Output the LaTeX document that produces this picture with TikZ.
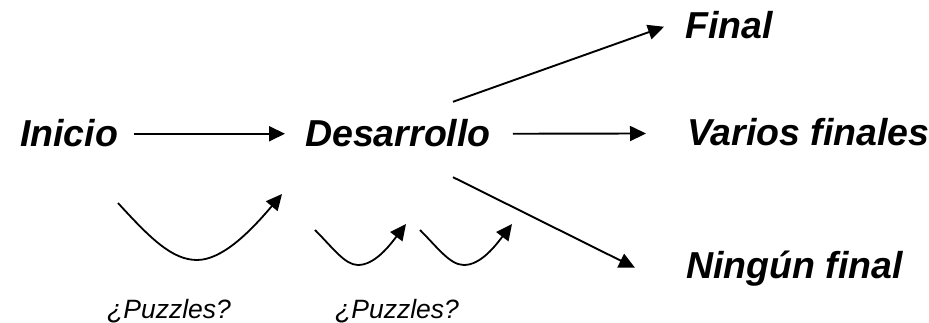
\documentclass[tikz,border=0pt]{standalone}
\usepackage{fontspec}
\setmainfont{Liberation Sans}
\usetikzlibrary{arrows.meta}
\tikzset{
  big/.style={inner sep=0pt, anchor=base west, text height=26.5pt, text depth=0pt,
    font=\fontsize{37.5}{40}\selectfont\bfseries\itshape},
  small/.style={inner sep=0pt, anchor=base west, font=\fontsize{26.5}{28}\selectfont\itshape},
  arr/.style={line width=1.9pt, -{Triangle[length=16pt,width=15pt]}},
  curvearr/.style={line width=1.8pt, -{Triangle[length=16pt,width=15pt]}}
}
\begin{document}
\begin{tikzpicture}[x=1pt,y=-1pt]
\useasboundingbox (0,0) rectangle (929,323);
\node[big] (ini) at (20,147) {Inicio};
\node[big] (des) at (305,147) {Desarrollo};
\node[big] (fin) at (685,39) {Final};
\node[big] (var) at (687,146) {Varios finales};
\node[big] (nin) at (686,278) {Ningún final};
\node[small] (pz1) at (107,318) {¿Puzzles?};
\node[small] (pz2) at (335,318) {¿Puzzles?};

\draw[arr] ([xshift=16pt]ini.east) -- ([xshift=-20pt]des.west);
\draw[arr] ([xshift=22pt]des.east) -- ([xshift=-41pt,yshift=-0.75pt]var.west);
\draw[arr] ([xshift=148pt,yshift=18.5pt]des.north west) -- ([xshift=-21pt,yshift=-1pt]fin.west);
\draw[arr] ([xshift=148pt,yshift=-30pt]des.south west) -- ([xshift=-51pt,yshift=-3pt]nin.west);

\coordinate (a1) at (118,203);
\coordinate (b1) at (197,260);
\coordinate (t1) at (282,194);
\draw[curvearr] (a1) .. controls (150,238) and (172,260) .. (b1)
  .. controls (222,260) and (250,232) .. (t1);

\coordinate (a2) at (315,230);
\coordinate (b2) at (358,265);
\coordinate (t2) at (406,224);
\draw[curvearr] (a2) .. controls (333,248) and (345,265) .. (b2)
  .. controls (375,265) and (390,245) .. (t2);

\coordinate (a3) at (420,230);
\coordinate (b3) at (464,265);
\coordinate (t3) at (512,224);
\draw[curvearr] (a3) .. controls (438,248) and (450,265) .. (b3)
  .. controls (481,265) and (496,245) .. (t3);
\end{tikzpicture}
\end{document}
